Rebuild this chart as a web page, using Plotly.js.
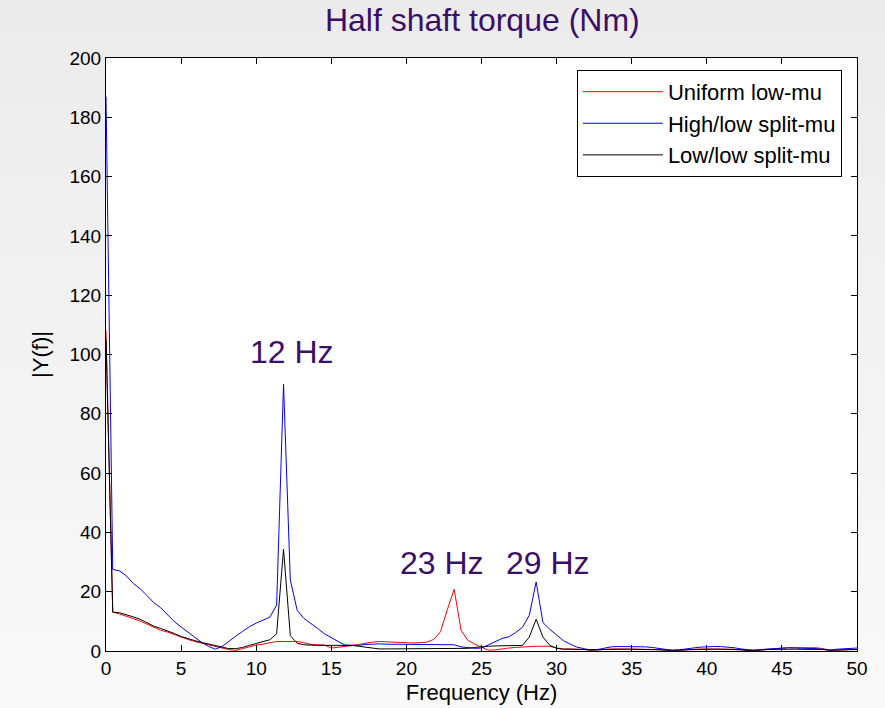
<!DOCTYPE html>
<html>
<head>
<meta charset="utf-8">
<script src="https://cdn.plot.ly/plotly-3.0.1.min.js"></script>
<style>
  html, body { margin: 0; padding: 0; }
  #wrap { width: 885px; height: 708px; background: linear-gradient(#ebebeb, #f9f9f9); }
  #chart { width: 885px; height: 708px; }
</style>
</head>
<body>
<div id="wrap"><div id="chart"></div></div>
<script>
// Frequency grid (Hz)
const freq = [0,0.45,0.91,1.36,1.82,2.27,2.73,3.18,3.64,4.09,4.55,5.00,5.45,5.91,6.36,6.82,7.27,7.73,8.18,8.64,
  9.09,9.55,10.00,10.45,10.91,11.36,11.82,12.27,12.73,13.18,13.64,14.09,14.55,15.00,15.45,15.91,16.36,16.82,17.27,17.73,
  18.18,18.64,19.09,19.55,20.00,20.45,20.91,21.36,21.82,22.27,22.73,23.18,23.64,24.09,24.55,25.00,25.45,25.91,26.36,26.82,
  27.27,27.73,28.18,28.64,29.09,29.55,30.00,30.45,30.91,31.36,31.82,32.27,32.73,33.18,33.64,34.09,34.55,35.00,35.45,35.91,
  36.36,36.82,37.27,37.73,38.18,38.64,39.09,39.55,40.00,40.45,40.91,41.36,41.82,42.27,42.73,43.18,43.64,44.09,44.55,45.00,
  45.45,45.91,46.36,46.82,47.27,47.73,48.18,48.64,49.09,49.55,50.00];

// Uniform low-mu |Y(f)|
const uniformLow = [108,13.1,12.5,11.6,10.9,10.1,9.0,8.0,7.0,6.4,5.5,4.7,3.9,3.2,2.6,2.0,1.6,1.0,0.5,0.2,
  0.8,1.4,2.0,2.3,2.7,3.2,3.2,3.2,3.2,2.8,2.2,2.1,2.0,1.0,1.2,1.6,1.8,2.2,2.7,3.0,
  3.2,3.1,3.0,2.8,2.6,2.7,2.8,3.0,3.9,6.5,14.0,20.8,7.0,3.6,2.3,1.2,0.3,0.4,0.8,1.0,
  1.2,1.4,1.6,1.6,1.6,1.6,1.0,0.7,0.7,0.7,0.5,0.2,0.4,0.7,0.7,0.7,0.7,0.7,0.7,0.7,
  0.6,0.5,0.3,0.1,0.2,0.4,0.6,0.7,0.7,0.7,0.7,0.7,0.6,0.4,0.2,0.3,0.5,0.7,0.9,1.1,
  1.1,1.1,1.1,1.1,1.1,0.8,0.3,0.2,0.4,0.5,0.5];

// High/low split-mu |Y(f)|
const highLowSplit = [187,27.5,27.0,25.3,22.8,21.0,18.7,16.3,14.6,12.3,9.9,8.1,6.4,4.6,2.9,1.6,0.6,1.5,3.3,5.0,
  6.6,8.2,9.4,10.3,11.4,15.5,90.0,24.0,13.7,11.0,9.4,7.6,5.8,4.4,3.2,2.0,1.9,1.9,2.2,2.4,
  2.4,2.3,2.3,2.2,2.2,2.1,2.1,2.1,2.1,2.1,2.1,2.1,1.4,1.1,0.9,1.0,2.0,3.2,4.2,4.8,
  6.2,8.0,12.0,23.3,9.6,7.3,5.5,3.5,2.3,1.3,0.8,0.3,0.5,0.9,1.4,1.5,1.5,1.5,1.5,1.4,
  1.2,0.8,0.4,0.2,0.4,0.6,1.0,1.3,1.5,1.5,1.5,1.4,1.1,0.7,0.4,0.2,0.5,0.7,0.9,1.1,
  1.1,1.0,1.0,0.9,0.8,0.6,0.2,0.6,0.8,0.9,1.0];

// Low/low split-mu |Y(f)|
const lowLowSplit = [105,13.1,12.9,12.3,11.5,10.7,9.5,8.4,7.6,6.8,5.9,4.9,4.1,3.5,2.9,2.4,2.0,1.4,0.8,0.8,
  1.2,1.9,2.6,3.2,3.8,5.8,34.3,5.2,2.6,2.1,1.9,1.9,1.9,1.9,1.9,1.9,1.9,1.6,1.3,0.8,
  0.7,0.7,0.7,0.7,0.7,0.7,0.7,0.7,0.7,0.8,0.8,0.8,0.8,0.9,1.2,1.5,1.6,1.7,1.7,1.8,
  1.8,1.9,4.7,10.7,4.7,1.9,0.9,0.6,0.6,0.5,0.4,0.3,0.4,0.5,0.6,0.6,0.6,0.6,0.6,0.6,
  0.5,0.4,0.3,0.2,0.3,0.4,0.5,0.6,0.6,0.6,0.6,0.6,0.5,0.4,0.2,0.2,0.3,0.5,0.6,0.6,
  0.6,0.6,0.6,0.6,0.6,0.5,0.3,0.3,0.4,0.5,0.5];

const seriesNames = ["Uniform low-mu", "High/low split-mu", "Low/low split-mu"];
const seriesColors = ["#ff0000", "#0000ff", "#000000"];
const seriesValues = [uniformLow, highLowSplit, lowLowSplit];

const xTicks = [0,5,10,15,20,25,30,35,40,45,50];
const yTicks = [0,20,40,60,80,100,120,140,160,180,200];

const peakLabels = ["12 Hz", "23 Hz", "29 Hz"];
const peakFreqs = [12.4, 22.35, 29.4];
const peakVals = [94, 23, 23];

const purple = "#3b0f68";
const font = "Liberation Sans, Arial, Helvetica, sans-serif";

const traces = seriesValues.map((vals, i) => ({
  x: freq, y: vals, type: "scatter", mode: "lines",
  name: seriesNames[i],
  line: {color: seriesColors[i], width: 1}
}));

const annotations = peakLabels.map((t, i) => ({
  x: peakFreqs[i], y: peakVals[i], xref: "x", yref: "y",
  text: t, showarrow: false, xanchor: "center", yanchor: "bottom",
  font: {family: font, size: 32, color: purple}
}));

const axisCommon = {
  showline: true, linecolor: "#000", linewidth: 1, mirror: "ticks",
  ticks: "inside", ticklen: 6, tickcolor: "#000", tickwidth: 1,
  showgrid: false, zeroline: false,
  tickfont: {family: font, size: 19, color: "#000"}
};

const layout = {
  width: 885, height: 708,
  paper_bgcolor: "rgba(0,0,0,0)", plot_bgcolor: "#ffffff",
  margin: {l: 106, r: 28, t: 58, b: 57},
  title: {text: "Half shaft torque (Nm)", x: 0.545, xanchor: "center", y: 0.972, yanchor: "middle",
          font: {family: font, size: 32, color: purple}},
  xaxis: Object.assign({}, axisCommon, {
    range: [0, 50], tickvals: xTicks, ticktext: xTicks.map(String),
    title: {text: "Frequency (Hz)", standoff: 6, font: {family: font, size: 22, color: "#000"}}
  }),
  yaxis: Object.assign({}, axisCommon, {
    range: [0, 200], tickvals: yTicks, ticktext: yTicks.map(String),
    title: {text: "|Y(f)|", standoff: 14, font: {family: font, size: 22, color: "#000"}}
  }),
  showlegend: true,
  legend: {
    x: 0.627, y: 0.98, xanchor: "left", yanchor: "top",
    bgcolor: "#ffffff", bordercolor: "#000", borderwidth: 1,
    font: {family: font, size: 22, color: "#000"},
    itemwidth: 80, tracegroupgap: 0
  },
  annotations: annotations
};

Plotly.newPlot("chart", traces, layout, {displayModeBar: false, staticPlot: true});
</script>
</body>
</html>
